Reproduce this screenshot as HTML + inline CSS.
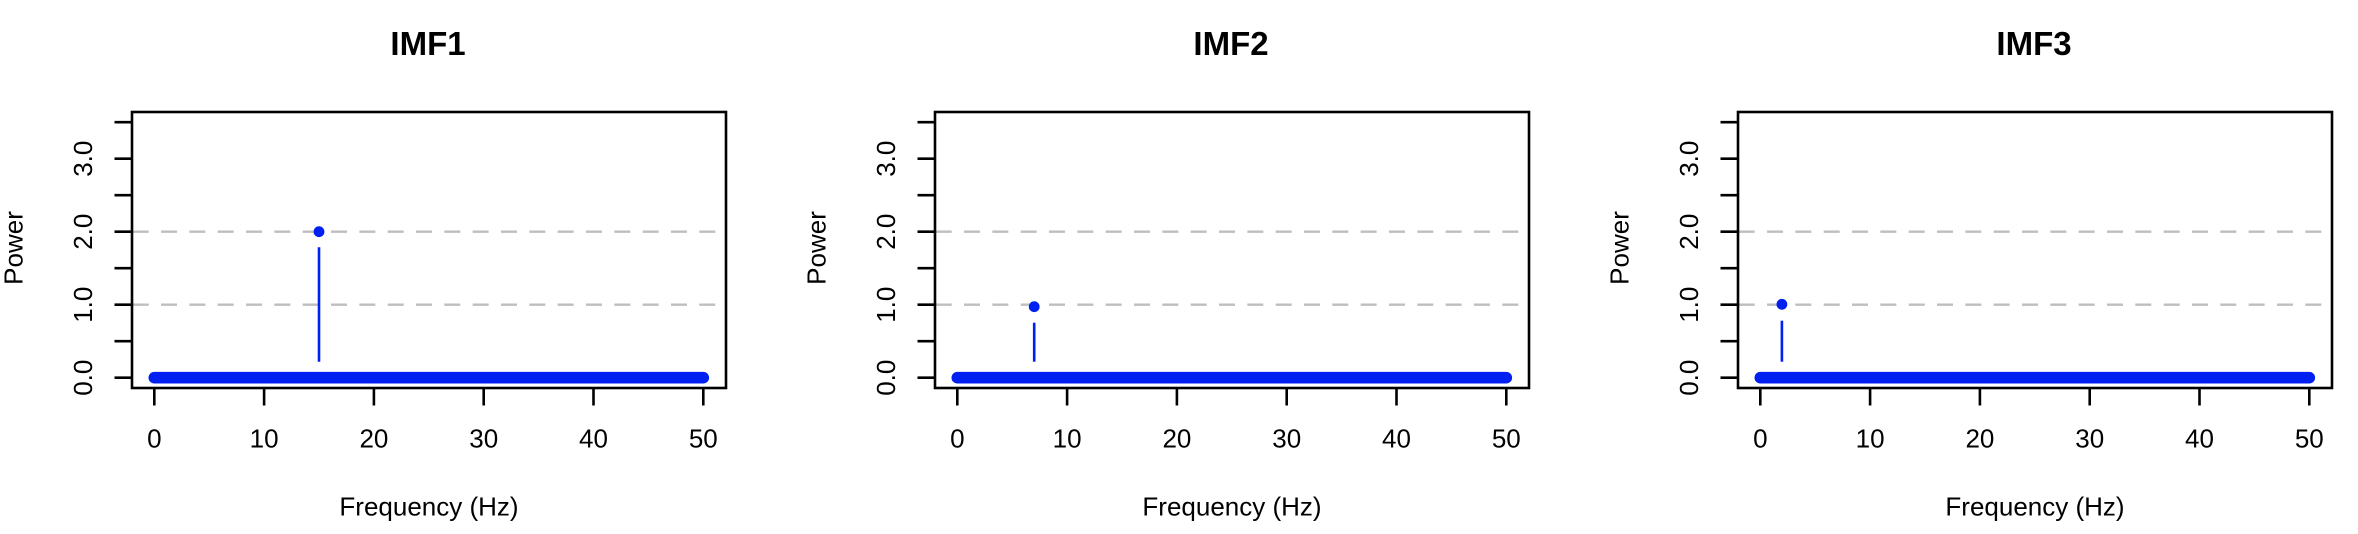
<!DOCTYPE html>
<html>
<head>
<meta charset="utf-8">
<style>
  html, body { margin: 0; padding: 0; background: #ffffff; }
  svg { display: block; }
  text { font-family: "Liberation Sans", Arial, Helvetica, sans-serif; fill: #000; }
</style>
</head>
<body>
<svg width="2358" height="534" viewBox="0 0 2358 534" xmlns="http://www.w3.org/2000/svg">
  <rect x="0" y="0" width="2358" height="534" fill="#ffffff"/>
  <defs>
    <g id="frame">
      <!-- dashed reference lines -->
      <line x1="132.7" y1="231.7" x2="726" y2="231.7" stroke="#bebebe" stroke-width="2.4" stroke-dasharray="16 12.33"/>
      <line x1="132.7" y1="304.7" x2="726" y2="304.7" stroke="#bebebe" stroke-width="2.4" stroke-dasharray="16 12.33"/>
      <!-- box -->
      <rect x="132" y="112" width="594" height="276" fill="none" stroke="#000" stroke-width="2.6"/>
      <!-- y ticks -->
      <g stroke="#000" stroke-width="2.6">
        <line x1="114.5" y1="377.7" x2="132" y2="377.7"/>
        <line x1="114.5" y1="341.2" x2="132" y2="341.2"/>
        <line x1="114.5" y1="304.7" x2="132" y2="304.7"/>
        <line x1="114.5" y1="268.2" x2="132" y2="268.2"/>
        <line x1="114.5" y1="231.7" x2="132" y2="231.7"/>
        <line x1="114.5" y1="195.2" x2="132" y2="195.2"/>
        <line x1="114.5" y1="158.7" x2="132" y2="158.7"/>
        <line x1="114.5" y1="122.2" x2="132" y2="122.2"/>
      </g>
      <!-- y tick labels -->
      <g font-size="26" text-anchor="middle">
        <text transform="translate(92,377.7) rotate(-90)">0.0</text>
        <text transform="translate(92,304.7) rotate(-90)">1.0</text>
        <text transform="translate(92,231.7) rotate(-90)">2.0</text>
        <text transform="translate(92,158.7) rotate(-90)">3.0</text>
      </g>
      <!-- x ticks -->
      <g stroke="#000" stroke-width="2.6">
        <line x1="154.3" y1="388" x2="154.3" y2="405.5"/>
        <line x1="264.1" y1="388" x2="264.1" y2="405.5"/>
        <line x1="373.9" y1="388" x2="373.9" y2="405.5"/>
        <line x1="483.7" y1="388" x2="483.7" y2="405.5"/>
        <line x1="593.5" y1="388" x2="593.5" y2="405.5"/>
        <line x1="703.3" y1="388" x2="703.3" y2="405.5"/>
      </g>
      <g font-size="26" text-anchor="middle">
        <text x="154.3" y="447.7">0</text>
        <text x="264.1" y="447.7">10</text>
        <text x="373.9" y="447.7">20</text>
        <text x="483.7" y="447.7">30</text>
        <text x="593.5" y="447.7">40</text>
        <text x="703.3" y="447.7">50</text>
      </g>
      <!-- axis labels -->
      <text x="429" y="515.7" font-size="26" text-anchor="middle">Frequency (Hz)</text>
      <text transform="translate(22.7,248) rotate(-90)" font-size="26" text-anchor="middle">Power</text>
      <!-- blue band of zero points -->
      <line x1="154.3" y1="377.7" x2="703.3" y2="377.7" stroke="#0020f2" stroke-width="11.6" stroke-linecap="round"/>
    </g>
  </defs>

  <!-- Panel 1 -->
  <g>
    <use href="#frame"/>
    <text x="428" y="55" font-size="33" font-weight="bold" text-anchor="middle">IMF1</text>
    <line x1="319" y1="247.3" x2="319" y2="361.7" stroke="#0020f2" stroke-width="2.6"/>
    <circle cx="319" cy="231.7" r="5.4" fill="#0020f2"/>
  </g>

  <!-- Panel 2 -->
  <g transform="translate(803,0)">
    <use href="#frame"/>
    <text x="428" y="55" font-size="33" font-weight="bold" text-anchor="middle">IMF2</text>
    <line x1="231.2" y1="322.7" x2="231.2" y2="361.7" stroke="#0020f2" stroke-width="2.6"/>
    <circle cx="231.2" cy="306.7" r="5.4" fill="#0020f2"/>
  </g>

  <!-- Panel 3 -->
  <g transform="translate(1606,0)">
    <use href="#frame"/>
    <text x="428" y="55" font-size="33" font-weight="bold" text-anchor="middle">IMF3</text>
    <line x1="175.9" y1="320.7" x2="175.9" y2="361.7" stroke="#0020f2" stroke-width="2.6"/>
    <circle cx="175.9" cy="304.3" r="5.4" fill="#0020f2"/>
  </g>
</svg>
</body>
</html>
